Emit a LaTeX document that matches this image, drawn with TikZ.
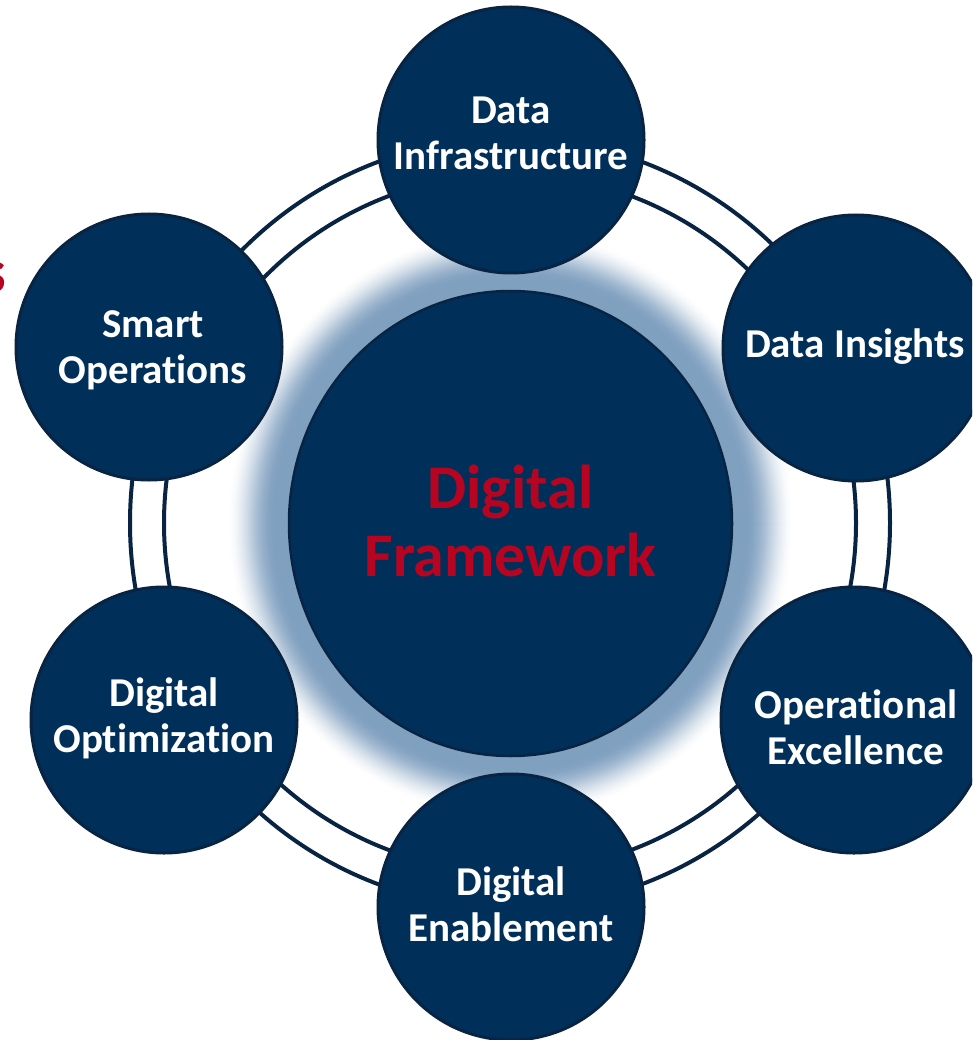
\documentclass[tikz,border=0pt]{standalone}
\usepackage{fontspec}
\setmainfont{Carlito}[Ligatures=NoCommon]
\usetikzlibrary{shapes.geometric}
\definecolor{navy}{RGB}{0,48,90}
\definecolor{edgec}{RGB}{8,36,66}
\definecolor{glowc}{RGB}{128,160,192}
\definecolor{redt}{RGB}{183,4,33}
\begin{document}
\begin{tikzpicture}[x=1pt,y=-1pt,
  sat/.style={circle, fill=navy, draw=edgec, line width=3pt, minimum size=266pt, inner sep=0pt},
  sattext/.style={text=white, font=\fontsize{41}{46}\selectfont\bfseries, align=center, inner sep=0pt},
  ringline/.style={draw=edgec, line width=4pt}]
\useasboundingbox (0,0) rectangle (972,1040);
\clip (0,0) rectangle (972,1040);
\fill[white] (0,0) rectangle (972,1040);
% outer double ring
\draw[ringline] (510,523) ellipse [x radius=380, y radius=385];
\draw[ringline] (510,523) ellipse [x radius=346, y radius=349];
% glow around the central disc
\foreach \i in {0,...,48} {
  \pgfmathsetmacro\d{62-\i}
  \pgfmathsetmacro\t{min(1,max(0,(\d-14)/48))}
  \pgfmathtruncatemacro\p{100*(1-\t*\t*(3-2*\t))}
  \fill[glowc!\p!white] (510.5,523.5) ellipse [x radius=222.5+\d, y radius=233.5+\d];
}
% central disc
\node[ellipse, fill=navy, draw=edgec, line width=2.5pt, minimum width=443pt, minimum height=465pt, inner sep=0pt] (core) at (510.5,523.5) {};
\node[text=redt, font=\fontsize{62}{68}\selectfont\bfseries, align=center, inner sep=0pt] (coretext) at (510.5,521) {Digital\\Framework};
% satellites
\node[sat] (infra) at (511,140) {};
\node[sat] (insights) at (856,348) {};
\node[sat] (opex) at (854,720) {};
\node[sat] (enable) at (511,907) {};
\node[sat] (optim) at (164,720) {};
\node[sat] (smart) at (149,347) {};
\node[sattext] (infraT) at (511,133) {Data\\Infrastructure};
\node[sattext] (insightsT) at (855,347) {Data Insights};
\node[sattext] (opexT) at (856,727) {Operational\\Excellence};
\node[sattext] (enableT) at (511,904) {Digital\\Enablement};
\node[sattext] (optimT) at (164,718) {Digital\\Optimization};
\node[sattext] (smartT) at (153,350) {Smart\\Operations};
% clipped title fragment at the left edge
\node[text=redt, font=\fontsize{62}{68}\selectfont\bfseries, anchor=base east, inner sep=0pt] (title) at (6,292) {s};
\end{tikzpicture}
\end{document}
